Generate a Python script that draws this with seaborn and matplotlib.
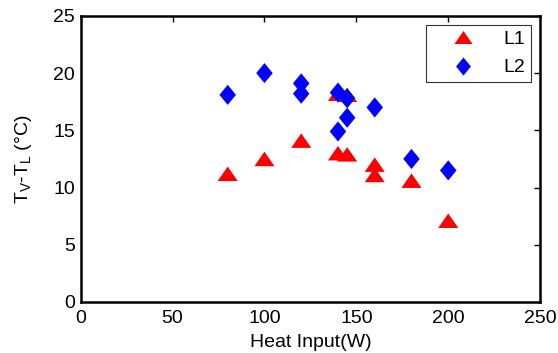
import numpy as np
import pandas as pd
import matplotlib
matplotlib.use("Agg")
import matplotlib.pyplot as plt
import seaborn as sns

# data
l1_heat = [80, 100, 120, 140, 140, 145, 145, 160, 160, 180, 200]
l1_dt = [11.2, 12.5, 14.1, 13.0, 18.2, 12.9, 18.1, 12.0, 11.1, 10.6, 7.1]
l2_heat = [80, 100, 120, 120, 140, 140, 145, 145, 160, 180, 200]
l2_dt = [18.1, 20.0, 19.1, 18.2, 18.3, 14.9, 17.8, 16.1, 17.0, 12.5, 11.5]

df = pd.DataFrame({
    'heat': l1_heat + l2_heat,
    'dt': l1_dt + l2_dt,
    'series': ['L1'] * len(l1_heat) + ['L2'] * len(l2_heat),
})

sns.set_style("white")
plt.rcParams['font.family'] = ['Liberation Sans', 'DejaVu Sans']
plt.rcParams['xtick.direction'] = 'in'
plt.rcParams['ytick.direction'] = 'in'
plt.rcParams['text.color'] = 'black'
plt.rcParams['axes.labelcolor'] = 'black'
plt.rcParams['xtick.color'] = 'black'
plt.rcParams['ytick.color'] = 'black'
plt.rcParams['mathtext.fontset'] = 'custom'
plt.rcParams['mathtext.rm'] = 'Liberation Sans'
plt.rcParams['mathtext.it'] = 'Liberation Sans'

# MATLAB-like marker shapes (wide triangle, tall diamond)
tri = [(-1, -0.72), (1, -0.72), (0, 0.72)]
dia = [(0, 1), (0.82, 0), (0, -1), (-0.82, 0)]

fig = plt.figure(figsize=(5.58, 3.53), dpi=100)
ax = fig.add_axes([0.1446, 0.1445, 0.8234, 0.8105])

sns.scatterplot(data=df, x='heat', y='dt', hue='series', style='series',
                palette={'L1': 'red', 'L2': 'blue'},
                markers={'L1': tri, 'L2': dia},
                s=210, linewidth=0, ax=ax)

ax.set_xlim(0, 250)
ax.set_ylim(0, 25)
ax.set_xticks([0, 50, 100, 150, 200, 250])
ax.set_yticks([0, 5, 10, 15, 20, 25])
ax.tick_params(axis='both', labelsize=14, length=4, width=1,
               top=True, right=True)
ax.tick_params(axis='x', pad=6)
ax.tick_params(axis='y', pad=4)
for sp in ax.spines.values():
    sp.set_linewidth(1.8)
    sp.set_color('black')

ax.set_xlabel('Heat Input(W)', fontsize=14, labelpad=5)
ax.set_ylabel('T$_\\mathregular{V}$-T$_\\mathregular{L}$ (\u00b0C)', fontsize=14, labelpad=14)

handles, labels = ax.get_legend_handles_labels()
leg = ax.legend(handles, labels, loc='upper right', fontsize=14, frameon=True,
                fancybox=False, edgecolor='black', handletextpad=0.5,
                borderpad=0.3, labelspacing=0.55, handlelength=3.2,
                borderaxespad=0.45, markerscale=0.9)
leg.get_frame().set_linewidth(0.8)

fig.savefig('out.png', dpi=100)
